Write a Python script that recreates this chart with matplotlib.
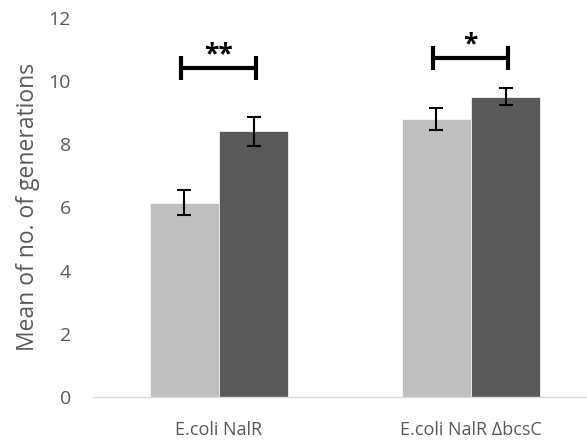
import matplotlib.pyplot as plt
import numpy as np

plt.rcParams['font.family'] = ['Open Sans', 'DejaVu Sans']

categories = ['E.coli NalR', 'E.coli NalR \u0394bcsC']
light_vals = [6.15, 8.8]
light_err = [0.38, 0.35]
dark_vals = [8.4, 9.5]
dark_err = [0.45, 0.27]

# significance brackets: label and y level per group
sig_labels = ['**', '*']
sig_y = [10.4, 10.72]

LIGHT = '#BFBFBF'
DARK = '#595959'
TXT = '#595959'

fig = plt.figure(figsize=(5.87, 4.41), dpi=100)
ax = fig.add_axes([93/587, 44/441, 504/587, 379.5/441])

x = np.arange(len(categories))
w = 0.274
ax.bar(x - w/2, light_vals, w, color=LIGHT, edgecolor='white', linewidth=0.5,
       yerr=light_err, capsize=5, error_kw=dict(ecolor='black', elinewidth=1.5, capthick=1.5))
ax.bar(x + w/2, dark_vals, w, color=DARK, edgecolor='white', linewidth=0.5,
       yerr=dark_err, capsize=5, error_kw=dict(ecolor='black', elinewidth=1.5, capthick=1.5))

for i, (lab, yy) in enumerate(zip(sig_labels, sig_y)):
    x0, x1 = x[i] - 0.152, x[i] + 0.148
    ax.plot([x0, x1], [yy, yy], color='black', lw=3, solid_capstyle='butt')
    ax.plot([x0, x0], [yy - 0.37, yy + 0.37], color='black', lw=3, solid_capstyle='butt')
    ax.plot([x1, x1], [yy - 0.37, yy + 0.37], color='black', lw=3, solid_capstyle='butt')
    ax.text((x0 + x1) / 2, yy + 0.0, lab, ha='center', va='bottom',
            fontsize=19, fontweight='bold', color='black')

ax.set_xlim(-0.5, 1.5)
ax.set_ylim(0, 12)
ax.set_yticks(range(0, 13, 2))
ax.set_xticks(x)
ax.set_xticklabels(categories, fontsize=13)
ax.tick_params(axis='both', length=0, colors=TXT)
ax.tick_params(axis='y', labelsize=14, pad=16)
ax.tick_params(axis='x', pad=17)
ax.set_ylabel('Mean of no. of generations', color=TXT, fontsize=16.5, labelpad=6)

for s in ['top', 'right', 'left']:
    ax.spines[s].set_visible(False)
ax.spines['bottom'].set_color('#D9D9D9')
ax.spines['bottom'].set_linewidth(1)

fig.savefig('out.png', dpi=100)
